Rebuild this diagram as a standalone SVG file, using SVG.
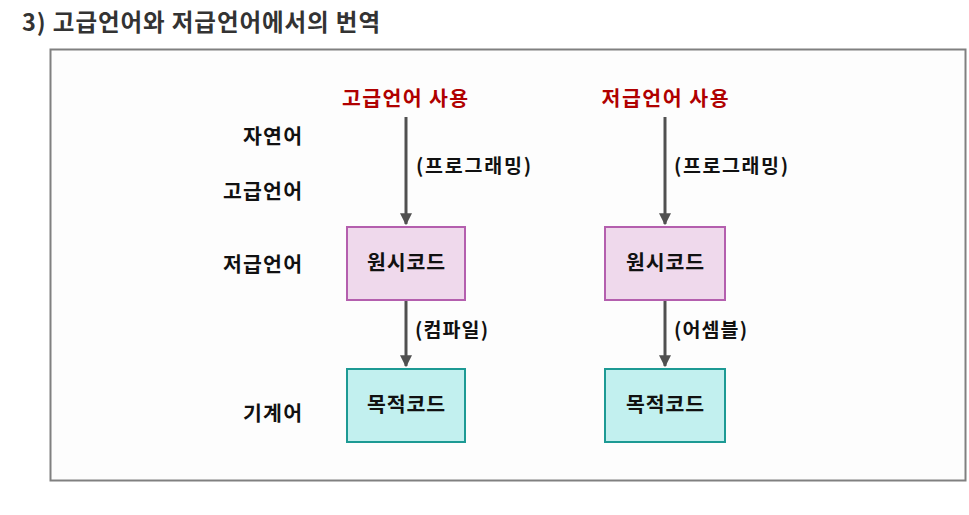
<svg xmlns="http://www.w3.org/2000/svg" width="969" height="515" viewBox="0 0 969 515">
<style>
text{font-family:"Noto Sans CJK KR","Noto Sans",sans-serif;font-weight:bold;fill:#111}
.t{font-size:23.5px;fill:#333}
.red{font-size:20.5px;fill:#b00000;text-anchor:middle}
.lab{font-size:20.5px;text-anchor:end}
.el{font-size:19.5px}
.nt{font-size:20.5px;text-anchor:middle}
.src{fill:#efd9ec;stroke:#b45fae;stroke-width:2}
.obj{fill:#c2f0ef;stroke:#1d9a94;stroke-width:2}
.c{stroke:#505050;stroke-width:3;fill:none}
</style>
<defs>
<marker id="ah" viewBox="0 0 10 10" refX="9" refY="5" markerWidth="4" markerHeight="4" orient="auto" markerUnits="strokeWidth">
<path d="M0,0 L10,5 L0,10 z" fill="#505050"/>
</marker>
</defs>
<rect width="969" height="515" fill="#ffffff"/>
<text class="t" x="22" y="31" textLength="358" lengthAdjust="spacing">3) 고급언어와 저급언어에서의 번역</text>
<rect x="50.5" y="49.5" width="915" height="431" fill="#fdfdfd" stroke="#808080" stroke-width="2"/>
<g id="labels">
<text class="lab" x="302" y="144" textLength="59" lengthAdjust="spacing">자연어</text>
<text class="lab" x="302" y="199" textLength="79" lengthAdjust="spacing">고급언어</text>
<text class="lab" x="302" y="272" textLength="79" lengthAdjust="spacing">저급언어</text>
<text class="lab" x="302" y="421" textLength="59" lengthAdjust="spacing">기계어</text>
<text class="red" x="405" y="106" textLength="126" lengthAdjust="spacing">고급언어 사용</text>
<text class="red" x="665" y="106" textLength="127" lengthAdjust="spacing">저급언어 사용</text>
</g>
<g id="connectors">
<line class="c" x1="406" y1="117" x2="406" y2="224" marker-end="url(#ah)"/>
<line class="c" x1="406" y1="301" x2="406" y2="366" marker-end="url(#ah)"/>
<line class="c" x1="665" y1="117" x2="665" y2="224" marker-end="url(#ah)"/>
<line class="c" x1="665" y1="301" x2="665" y2="366" marker-end="url(#ah)"/>
<text class="el" x="416" y="173" textLength="115" lengthAdjust="spacing">(프로그래밍)</text>
<text class="el" x="415" y="337" textLength="73" lengthAdjust="spacing">(컴파일)</text>
<text class="el" x="674" y="173" textLength="114" lengthAdjust="spacing">(프로그래밍)</text>
<text class="el" x="674" y="337" textLength="73" lengthAdjust="spacing">(어셈블)</text>
</g>
<g id="src1"><rect class="src" x="347" y="227" width="118" height="73"/><text class="nt" x="406" y="270" textLength="78" lengthAdjust="spacing">원시코드</text></g>
<g id="obj1"><rect class="obj" x="347" y="369" width="118" height="73"/><text class="nt" x="406" y="412" textLength="78" lengthAdjust="spacing">목적코드</text></g>
<g id="src2"><rect class="src" x="605" y="227" width="120" height="73"/><text class="nt" x="665" y="270" textLength="78" lengthAdjust="spacing">원시코드</text></g>
<g id="obj2"><rect class="obj" x="605" y="369" width="120" height="73"/><text class="nt" x="665" y="412" textLength="78" lengthAdjust="spacing">목적코드</text></g>
</svg>
